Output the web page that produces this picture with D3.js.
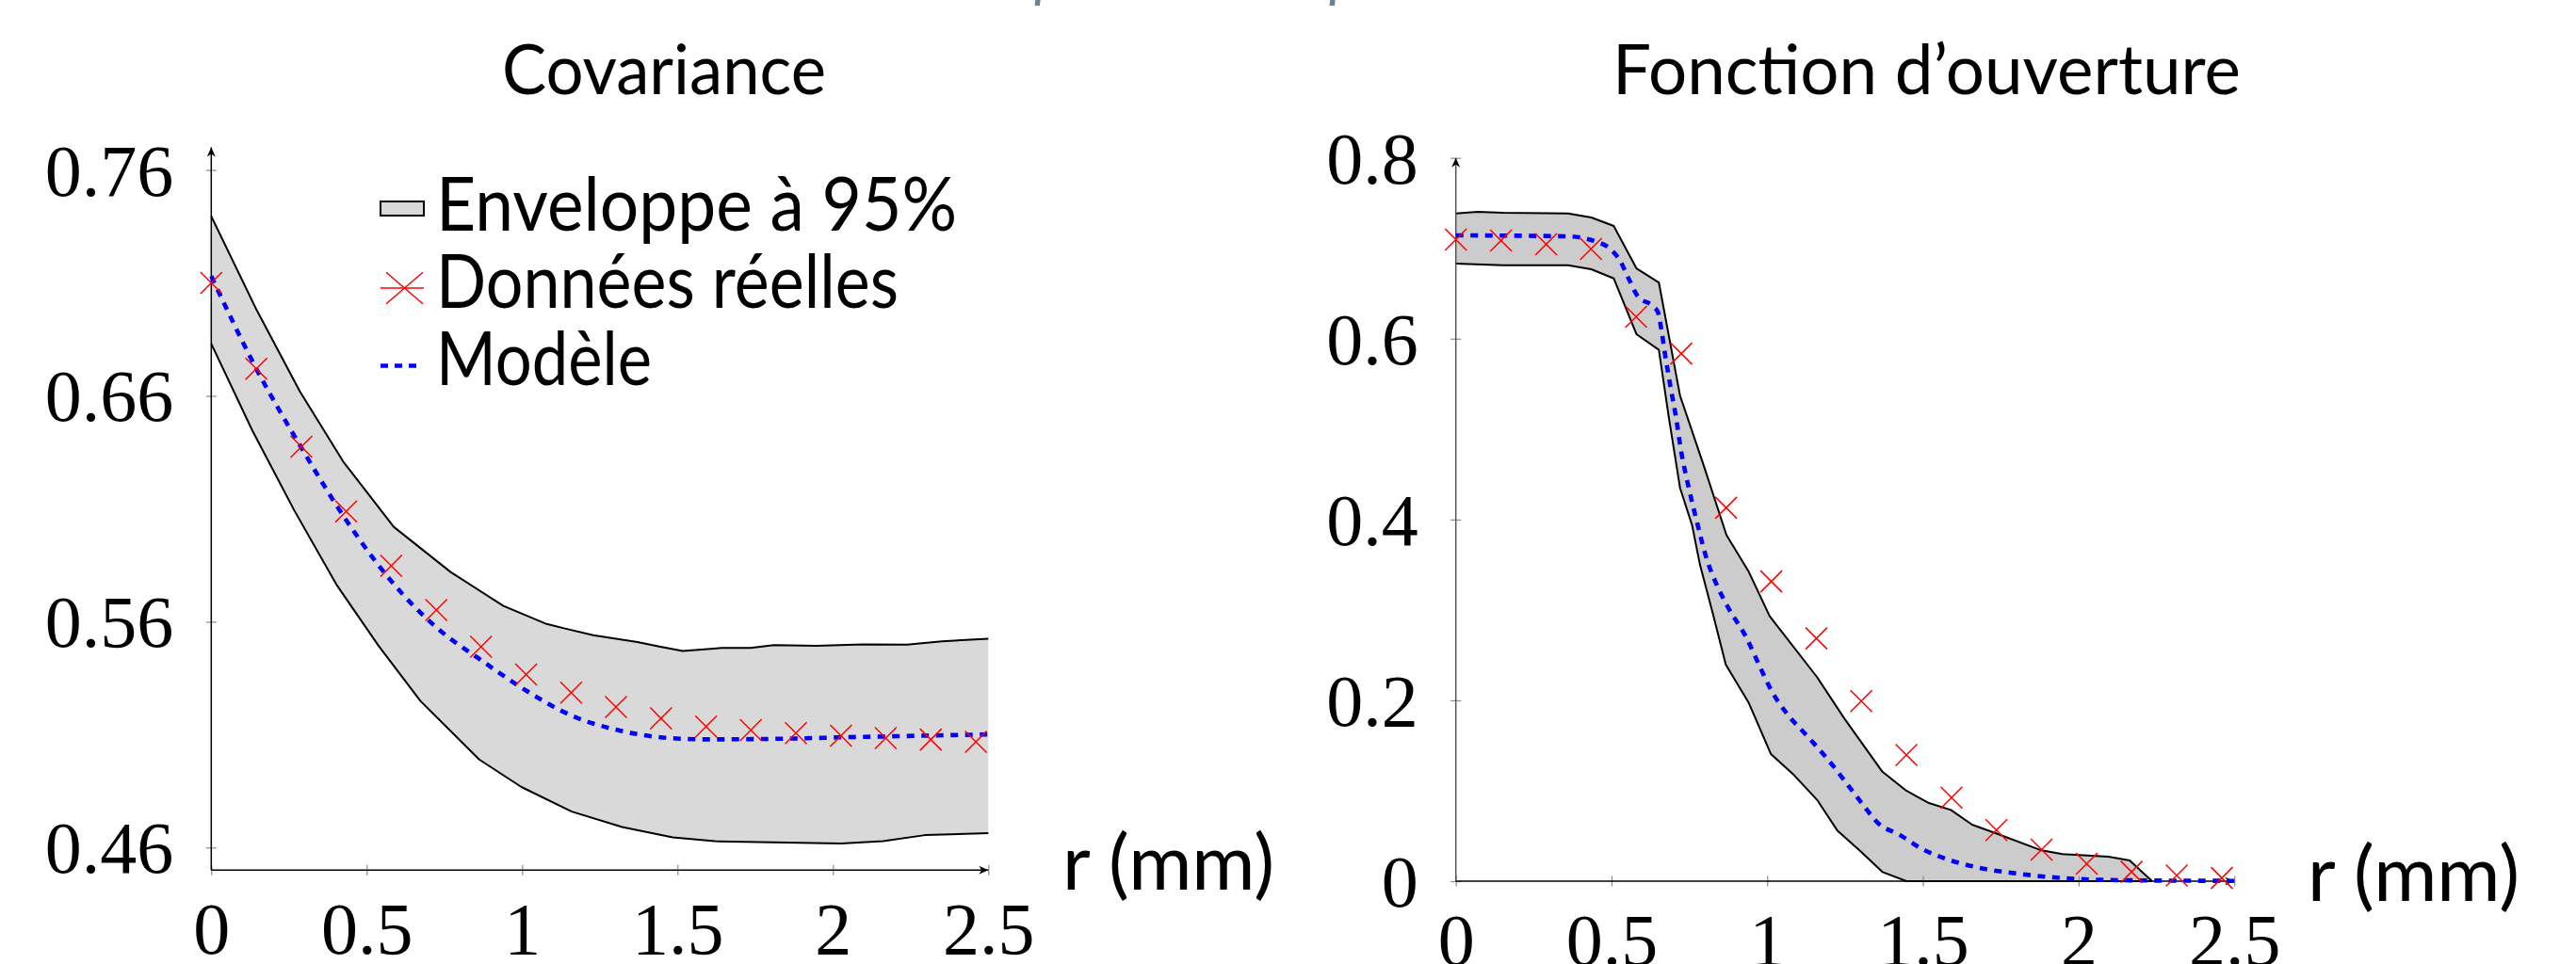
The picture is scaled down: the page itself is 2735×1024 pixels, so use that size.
<!DOCTYPE html>
<html><head><meta charset="utf-8">
<script src="https://cdn.jsdelivr.net/npm/d3@7"></script>
<style>
html,body{margin:0;padding:0;background:#fff;}
svg{display:block;}
</style></head>
<body>
<svg id="chart" width="2735" height="1024"></svg>
<script>
// ---------- data ----------
const rTicks = [0, 0.5, 1, 1.5, 2, 2.5];
const rTickLabels = ["0", "0.5", "1", "1.5", "2", "2.5"];
const covYTicks = [0.46, 0.56, 0.66, 0.76];
const covYTickLabels = ["0.46", "0.56", "0.66", "0.76"];
const ouvYTicks = [0, 0.2, 0.4, 0.6, 0.8];
const ouvYTickLabels = ["0", "0.2", "0.4", "0.6", "0.8"];

const titles = ["Covariance", "Fonction d\u2019ouverture"];
const legendLabels = ["Enveloppe \u00e0 95%", "Donn\u00e9es r\u00e9elles", "Mod\u00e8le"];
const xAxisLabel = "r (mm)";

const dataR = [0, 0.145, 0.29, 0.434, 0.579, 0.724, 0.868, 1.013, 1.158, 1.302, 1.447, 1.592, 1.736, 1.881, 2.026, 2.170, 2.315, 2.460];
const covData = [0.710, 0.672, 0.6375, 0.6088, 0.5848, 0.5652, 0.5489, 0.5366, 0.5286, 0.5222, 0.5172, 0.5136, 0.5120, 0.5107, 0.5095, 0.5085, 0.5078, 0.5068];
const ouvData = [0.7096, 0.7085, 0.7045, 0.6993, 0.6242, 0.5835, 0.4130, 0.3315, 0.2685, 0.1991, 0.1396, 0.0924, 0.0565, 0.0348, 0.0192, 0.0103, 0.0062, 0.0035];

const covModel = [[0, 0.713], [0.145, 0.672], [0.29, 0.637], [0.434, 0.605], [0.579, 0.578], [0.724, 0.5575], [0.868, 0.543], [1.013, 0.5295], [1.158, 0.5185], [1.302, 0.5122], [1.447, 0.5088], [1.592, 0.5079], [1.736, 0.5080], [1.881, 0.5083], [2.026, 0.5088], [2.170, 0.5092], [2.315, 0.5096], [2.5, 0.5101]];
const covUpper = [[0, 0.7395], [0.146, 0.698], [0.285, 0.662], [0.424, 0.631], [0.587, 0.602], [0.77, 0.582], [0.94, 0.567], [1.079, 0.559], [1.138, 0.557], [1.229, 0.554], [1.371, 0.551], [1.441, 0.549], [1.517, 0.547], [1.644, 0.5484], [1.735, 0.5484], [1.81, 0.5496], [1.947, 0.5493], [2.098, 0.5500], [2.239, 0.5499], [2.351, 0.5513], [2.5, 0.5525]];
const covLower = [[0, 0.6831], [0.132, 0.6447], [0.267, 0.6093], [0.402, 0.5766], [0.538, 0.5494], [0.673, 0.5249], [0.862, 0.4990], [0.998, 0.4868], [1.16, 0.4759], [1.322, 0.4691], [1.485, 0.4645], [1.62, 0.4628], [2.026, 0.4618], [2.161, 0.4628], [2.296, 0.4655], [2.5, 0.4664]];

const ouvModel = [[0, 0.7143], [0.359, 0.7132], [0.451, 0.7073], [0.492, 0.7004], [0.527, 0.6865], [0.556, 0.6657], [0.585, 0.6466], [0.632, 0.6362], [0.649, 0.6292], [0.660, 0.6102], [0.672, 0.5824], [0.689, 0.5477], [0.707, 0.5130], [0.724, 0.4748], [0.747, 0.4366], [0.776, 0.3950], [0.805, 0.3570], [0.835, 0.3300], [0.871, 0.3048], [0.932, 0.2700], [0.979, 0.2353], [1.013, 0.2111], [1.060, 0.1867], [1.128, 0.1607], [1.195, 0.1346], [1.250, 0.1104], [1.304, 0.0861], [1.358, 0.0635], [1.425, 0.0513], [1.497, 0.0357], [1.584, 0.0236], [1.679, 0.0149], [1.813, 0.0080], [1.948, 0.0034], [2.15, 0.0010], [2.5, 0.0003]];
const ouvUpper = [[0, 0.7386], [0.07, 0.7403], [0.151, 0.7393], [0.36, 0.7386], [0.435, 0.7341], [0.507, 0.7247], [0.58, 0.6778], [0.652, 0.6622], [0.720, 0.5370], [0.798, 0.4577], [0.869, 0.3829], [0.941, 0.3420], [1.008, 0.2930], [1.16, 0.2257], [1.248, 0.1798], [1.37, 0.1210], [1.447, 0.1000], [1.517, 0.0867], [1.59, 0.0787], [1.658, 0.0625], [1.733, 0.0531], [1.881, 0.0340], [1.948, 0.0299], [2.096, 0.0271], [2.164, 0.0229], [2.236, 0]];
const ouvLower = [[0, 0.6830], [0.151, 0.6813], [0.36, 0.6813], [0.435, 0.6768], [0.507, 0.6667], [0.58, 0.6050], [0.652, 0.5876], [0.684, 0.5130], [0.720, 0.4350], [0.759, 0.3933], [0.784, 0.3500], [0.824, 0.2978], [0.867, 0.2395], [0.941, 0.1970], [1.012, 0.1405], [1.086, 0.1173], [1.16, 0.0900], [1.226, 0.0556], [1.302, 0.0323], [1.371, 0.0100], [1.447, 0], [2.236, 0]];

// ---------- drawing ----------
const svg = d3.select("#chart");
const defs = svg.append("defs");
defs.append("marker").attr("id", "arrow")
  .attr("viewBox", "-11 -6 13 12").attr("refX", 0).attr("refY", 0)
  .attr("markerWidth", 13).attr("markerHeight", 12)
  .attr("markerUnits", "userSpaceOnUse").attr("orient", "auto")
  .append("path").attr("d", "M-10,-4.5 L0,0 L-10,4.5 L-7,0 Z").attr("fill", "#000");

const SERIF = "'Liberation Serif', 'DejaVu Serif', serif";
const SANS = "Lato, 'Open Sans', sans-serif";

// header fragments (descenders of the slide title above, cut off by the frame)
svg.append("text").attr("x", 1098).attr("y", -5)
  .attr("font-family", SANS).attr("font-style", "italic").attr("font-size", 62)
  .attr("fill", "#708090").text("p");
svg.append("text").attr("x", 1411).attr("y", -5)
  .attr("font-family", SANS).attr("font-style", "italic").attr("font-size", 62)
  .attr("fill", "#708090").text("p");

function xMark(g, cx, cy, hw, hh, color, sw) {
  g.append("path")
    .attr("d", `M${cx - hw},${cy - hh}L${cx + hw},${cy + hh}M${cx - hw},${cy + hh}L${cx + hw},${cy - hh}`)
    .attr("stroke", color).attr("stroke-width", sw).attr("fill", "none");
}

function panel(cfg) {
  const g = svg.append("g");
  const x = d3.scaleLinear().domain([0, 2.5]).range(cfg.xRange);
  const y = d3.scaleLinear().domain(cfg.yDomain).range(cfg.yRange);
  const line = d3.line().x(d => x(d[0])).y(d => y(d[1]));

  // envelope fill
  const poly = cfg.upper.concat(cfg.lower.slice().reverse());
  g.append("path").attr("d", line(poly) + "Z").attr("fill", cfg.fill).attr("stroke", "none");
  g.append("path").attr("d", line(cfg.upper)).attr("fill", "none").attr("stroke", "#000").attr("stroke-width", 2).attr("stroke-linejoin", "round");
  g.append("path").attr("d", line(cfg.lower)).attr("fill", "none").attr("stroke", "#000").attr("stroke-width", 2).attr("stroke-linejoin", "round");

  // axes
  const x0 = x(0), y0 = y(cfg.yDomain[0]);
  const xAxis = d3.axisBottom(x).tickValues(rTicks).tickFormat((d, i) => rTickLabels[i]).tickSize(0);
  const gx = g.append("g").attr("transform", `translate(0,${y0})`).call(xAxis);
  gx.select(".domain").remove();
  gx.selectAll(".tick line").attr("y1", -5.5).attr("y2", 5.5).attr("stroke", "#8a8a8a").attr("stroke-width", 1.2);
  gx.selectAll(".tick text").attr("y", 89).attr("dy", null)
    .attr("font-family", SERIF).attr("font-size", 78).attr("fill", "#000");

  const yAxis = d3.axisLeft(y).tickValues(cfg.yTicks).tickFormat((d, i) => cfg.yTickLabels[i]).tickSize(0);
  const gy = g.append("g").attr("transform", `translate(${x0},0)`).call(yAxis);
  gy.select(".domain").remove();
  gy.selectAll(".tick line").attr("x1", -5.5).attr("x2", 5.5).attr("stroke", "#8a8a8a").attr("stroke-width", 1.2);
  gy.selectAll(".tick text").attr("x", -40).attr("y", 26.5).attr("dy", null)
    .attr("font-family", SERIF).attr("font-size", 78).attr("fill", "#000");

  g.append("line").attr("x1", x0).attr("y1", y0).attr("x2", x(2.5)).attr("y2", y0)
    .attr("stroke", "#000").attr("stroke-width", 1.5).attr("marker-end", "url(#arrow)");
  g.append("line").attr("x1", x0).attr("y1", y0).attr("x2", x0).attr("y2", y(cfg.yTop))
    .attr("stroke", cfg.yAxisColor).attr("stroke-width", 1.5).attr("marker-end", "url(#arrow)");

  // model
  g.append("path").attr("d", d3.line().x(d => x(d[0])).y(d => y(d[1])).curve(d3.curveMonotoneX)(cfg.model))
    .attr("fill", "none").attr("stroke", "#0000ff").attr("stroke-width", 4.6).attr("stroke-dasharray", "8,7.5");

  // data markers
  dataR.forEach((r, i) => xMark(g, x(r), y(cfg.data[i]), 11.5, 11.5, "#ff0000", 1.5));

  // titles and axis label
  g.append("text").attr("x", cfg.titleX).attr("y", 100).attr("textLength", cfg.titleLen).attr("lengthAdjust", "spacingAndGlyphs")
    .attr("font-family", SANS).attr("font-size", 74).attr("fill", "#000").text(cfg.title);
  g.append("text").attr("x", cfg.rLabelX).attr("y", cfg.rLabelY).attr("textLength", 225).attr("lengthAdjust", "spacingAndGlyphs")
    .attr("font-family", SANS).attr("font-size", 82).attr("fill", "#000").text(xAxisLabel);
  return g;
}

panel({
  xRange: [224.3, 1049.3], yDomain: [0.45, 0.77], yRange: [924.3, 156.6], yTop: 0.77,
  yTicks: covYTicks, yTickLabels: covYTickLabels, yAxisColor: "#000",
  upper: covUpper, lower: covLower, model: covModel, data: covData, fill: "#d9d9d9",
  title: titles[0], titleX: 533, titleLen: 344, rLabelX: 1128, rLabelY: 945
});
panel({
  xRange: [1545.7, 2372.2], yDomain: [0, 0.8], yRange: [936, 167.7], yTop: 0.8,
  yTicks: ouvYTicks, yTickLabels: ouvYTickLabels, yAxisColor: "#555",
  upper: ouvUpper, lower: ouvLower, model: ouvModel, data: ouvData, fill: "#cccccc",
  title: titles[1], titleX: 1712, titleLen: 667, rLabelX: 2450, rLabelY: 957
});

// legend (left panel)
const lg = svg.append("g");
lg.append("rect").attr("x", 404).attr("y", 214).attr("width", 46).attr("height", 15)
  .attr("fill", "#d9d9d9").attr("stroke", "#000").attr("stroke-width", 2);
lg.append("line").attr("x1", 404).attr("x2", 450).attr("y1", 306).attr("y2", 306)
  .attr("stroke", "#ff0000").attr("stroke-width", 1.4);
xMark(lg, 429.5, 306, 19.5, 16.7, "#ff0000", 1.5);
lg.append("line").attr("x1", 404).attr("x2", 446).attr("y1", 388.5).attr("y2", 388.5)
  .attr("stroke", "#0000ff").attr("stroke-width", 4.6).attr("stroke-dasharray", "8,7");
const legY = [245, 327, 409];
const legLen = [553, 491, 229];
legendLabels.forEach((t, i) => {
  lg.append("text").attr("x", 463).attr("y", legY[i]).attr("textLength", legLen[i]).attr("lengthAdjust", "spacingAndGlyphs")
    .attr("font-family", SANS).attr("font-size", 79).attr("fill", "#000").text(t);
});
</script>
</body></html>
